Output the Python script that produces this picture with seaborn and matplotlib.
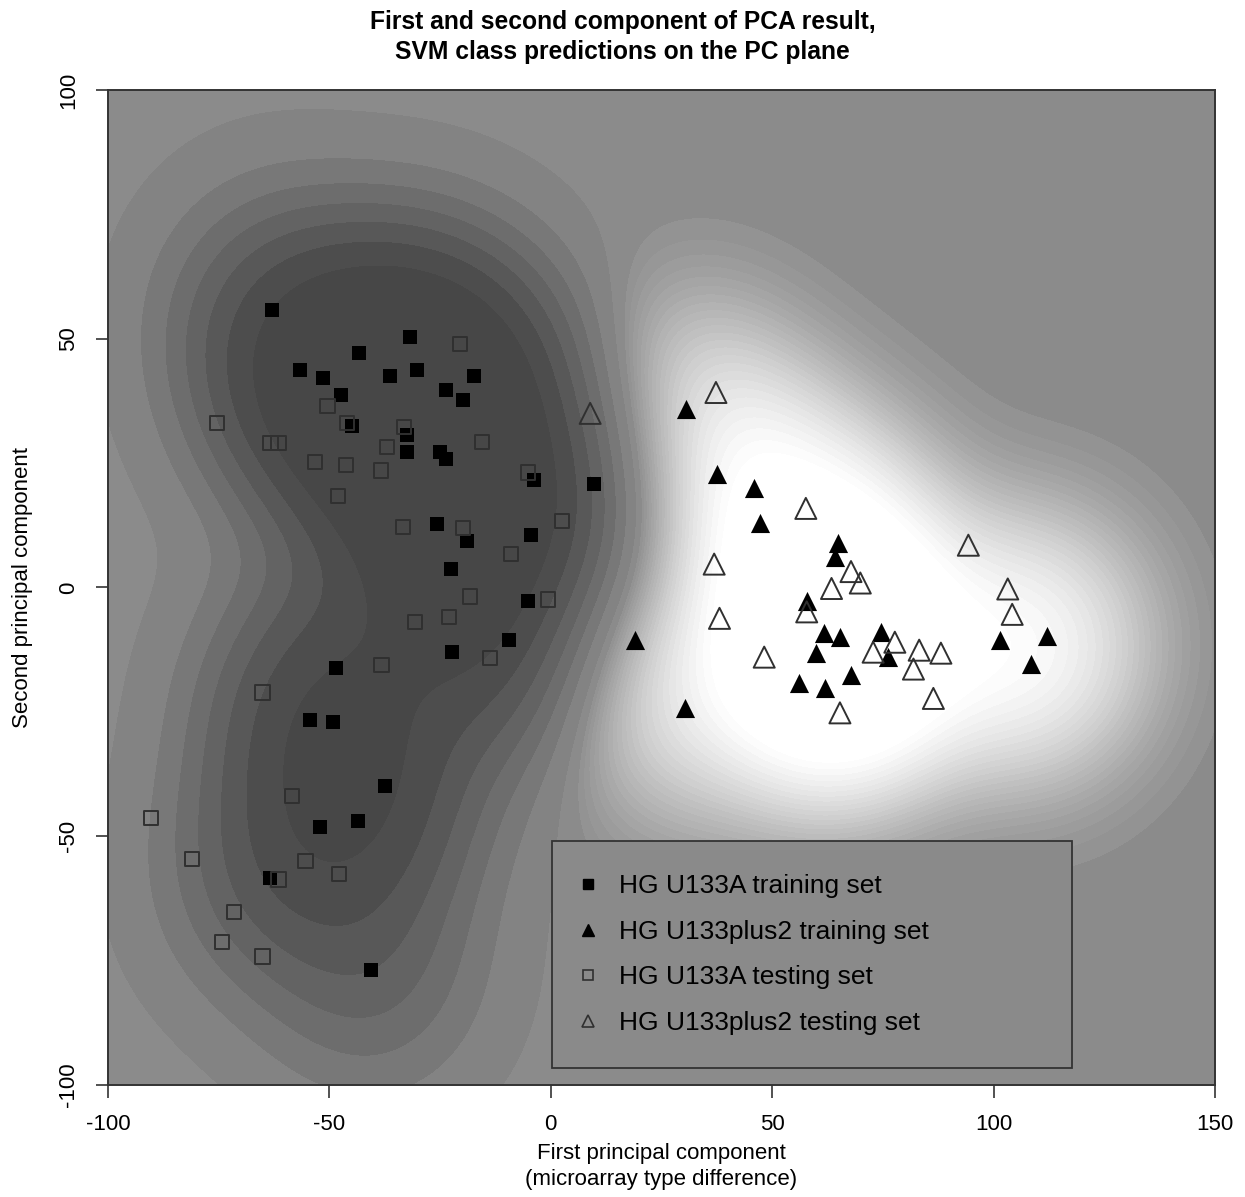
import numpy as np
import pandas as pd
import matplotlib
matplotlib.use("Agg")
import matplotlib.pyplot as plt
from matplotlib.colors import LinearSegmentedColormap, TwoSlopeNorm
from matplotlib.lines import Line2D
import seaborn as sns

# ------------------ Data ------------------
# HG U133A training set (filled squares)
train_a_x = [-63.0, -56.6, -51.4, -47.3, -44.9, -43.4, -36.3, -31.8, -30.2, -32.5,
             -32.5, -23.6, -19.8, -17.3, -25.0, -23.6, -25.6, -18.9, -22.5, -3.8,
             -4.5, 9.8, -5.1, -9.4, -22.3, -48.5, -54.4, -49.2, -37.4, -43.6,
             -52.0, -63.3, -40.6]
train_a_y = [55.8, 43.7, 42.1, 38.7, 32.5, 47.1, 42.5, 50.4, 43.7, 30.6,
             27.2, 39.7, 37.7, 42.5, 27.2, 25.8, 12.8, 9.3, 3.7, 21.6,
             10.5, 20.8, -2.8, -10.6, -12.9, -16.2, -26.7, -27.1, -40.0, -46.9,
             -48.2, -58.3, -76.9]

# HG U133plus2 training set (filled triangles)
train_p_x = [30.5, 37.5, 45.9, 47.2, 64.9, 64.2, 57.9, 19.0, 61.7, 65.3,
             74.5, 59.9, 76.1, 56.0, 61.9, 67.8, 30.3, 101.4, 112.1, 108.5]
train_p_y = [35.9, 22.8, 20.0, 13.0, 8.9, 6.1, -2.7, -10.6, -9.1, -9.9,
             -9.0, -13.2, -13.9, -19.2, -20.2, -17.6, -24.2, -10.6, -9.8, -15.4]

# HG U133A testing set (open squares)
test_a_x = [-20.5, -15.6, -33.1, -36.9, -46.3, -46.0, -38.3, -48.1, -5.1, 2.5,
            -33.4, -19.8, -9.0, -50.4, -75.3, -63.3, -61.5, -53.2, -18.2, -30.7,
            -23.0, -0.6, -38.2, -13.7, -65.1, -58.5, -90.3, -81.1, -55.4, -47.8,
            -61.5, -71.5, -74.3, -65.1]
test_a_y = [48.9, 29.3, 32.3, 28.2, 24.6, 33.1, 23.5, 18.4, 23.1, 13.4,
            12.1, 12.0, 6.7, 36.5, 33.0, 29.1, 29.1, 25.2, -1.8, -6.9,
            -5.9, -2.4, -15.6, -14.1, -21.1, -41.9, -46.4, -54.6, -55.0, -57.6,
            -58.7, -65.2, -71.3, -74.2]

# HG U133plus2 testing set (open triangles)
test_p_x = [8.9, 37.3, 57.6, 36.9, 67.8, 69.9, 63.4, 57.8, 38.1, 48.2,
            65.3, 72.8, 77.7, 83.2, 88.1, 81.9, 86.4, 94.3, 103.2, 104.2]
test_p_y = [35.0, 39.2, 15.9, 4.7, 3.2, 0.9, -0.2, -4.9, -6.2, -14.0,
            -25.2, -13.0, -11.0, -12.6, -13.2, -16.4, -22.3, 8.5, -0.3, -5.4]

legend_labels = ["HG U133A training set", "HG U133plus2 training set",
                 "HG U133A testing set", "HG U133plus2 testing set"]

x_ticks = [-100, -50, 0, 50, 100, 150]
y_ticks = [-100, -50, 0, 50, 100]

# ------------------ Class surface from the training points ------------------
gx = np.linspace(-100, 150, 500)
gy = np.linspace(-100, 100, 400)
GX, GY = np.meshgrid(gx, gy)
sigma = 16.0


def kernel_sum(px, py):
    s = np.zeros_like(GX)
    for a, b in zip(px, py):
        s += np.exp(-((GX - a) ** 2 + (GY - b) ** 2) / (2 * sigma ** 2))
    return s


s_plus = kernel_sum(train_p_x, train_p_y)
s_a = kernel_sum(train_a_x, train_a_y)
decision = (s_plus - s_a) / (s_plus + s_a + 2.0)

# ------------------ Plot ------------------
sns.set_style("white")
plt.rcParams["font.family"] = ["Liberation Sans", "DejaVu Sans"]
plt.rcParams["text.color"] = "black"
plt.rcParams["axes.labelcolor"] = "black"
plt.rcParams["xtick.color"] = "black"
plt.rcParams["ytick.color"] = "black"

fig = plt.figure(figsize=(12.45, 11.97), dpi=100)
ax = fig.add_axes([0.0867, 0.0936, 0.8892, 0.8312])

neg_levels = np.linspace(-0.75, -0.03, 8)
pos_levels = np.linspace(0.03, 0.66, 26)
levels = np.concatenate([[-1.01], neg_levels[1:], pos_levels, [1.01]])
gray_map = LinearSegmentedColormap.from_list(
    "svm_gray", [(0.0, "#474747"), (0.5, "#8b8b8b"), (1.0, "#ffffff")])
norm = TwoSlopeNorm(vmin=-0.66, vcenter=0.0, vmax=0.64)
ax.contourf(GX, GY, decision, levels=levels, cmap=gray_map, norm=norm)

sns.scatterplot(x=train_a_x, y=train_a_y, marker="s", s=115, color="black",
                edgecolor="black", linewidth=0, ax=ax, zorder=3)
sns.scatterplot(x=train_p_x, y=train_p_y, marker="^", s=190, color="black",
                edgecolor="black", linewidth=0, ax=ax, zorder=3)
sns.scatterplot(x=test_a_x, y=test_a_y, marker="s", s=105, color="none",
                edgecolor="#303030", linewidth=1.4, ax=ax, zorder=3)
sns.scatterplot(x=test_p_x, y=test_p_y, marker="^", s=230, color="none",
                edgecolor="#303030", linewidth=1.4, ax=ax, zorder=3)

ax.set_xlim(-100, 150)
ax.set_ylim(-100, 100)
ax.set_xticks(x_ticks)
ax.set_yticks(y_ticks)
ax.set_xticklabels([str(t) for t in x_ticks])
ax.set_yticklabels([str(t) for t in y_ticks], rotation=90, va="center")
ax.tick_params(axis="both", direction="out", length=9, width=1.2, color="#333333",
               labelsize=16, pad=12, bottom=True, left=True)
for sp in ax.spines.values():
    sp.set_color("#333333")
    sp.set_linewidth(1.4)

ax.set_xlabel("First principal component\n(microarray type difference)", fontsize=16,
              linespacing=1.3, labelpad=6)
ax.set_ylabel("Second principal component", fontsize=16, labelpad=18)
fig.suptitle("First and second component of PCA result,\nSVM class predictions on the PC plane",
             fontsize=17.7, fontweight="bold", y=0.992, linespacing=1.35)

handles = [
    Line2D([], [], ls="none", marker="s", ms=7, mfc="black", mec="black"),
    Line2D([], [], ls="none", marker="^", ms=9, mfc="black", mec="black"),
    Line2D([], [], ls="none", marker="s", ms=7, mfc="none", mec="#303030", mew=1.2),
    Line2D([], [], ls="none", marker="^", ms=9, mfc="none", mec="#303030", mew=1.2),
]
leg = ax.legend(handles, legend_labels, loc="lower left", bbox_to_anchor=(0.401, 0.017, 0.47, 0.232),
                mode="expand", fontsize=19, frameon=True, fancybox=False,
                borderpad=1.25, labelspacing=0.82, handletextpad=1.05, handlelength=0.25,
                borderaxespad=0)
leg.get_frame().set_facecolor("#8a8a8a")
leg.get_frame().set_edgecolor("#333333")
leg.get_frame().set_linewidth(1.3)
leg.get_frame().set_alpha(1.0)

fig.savefig("out.png", dpi=100)
